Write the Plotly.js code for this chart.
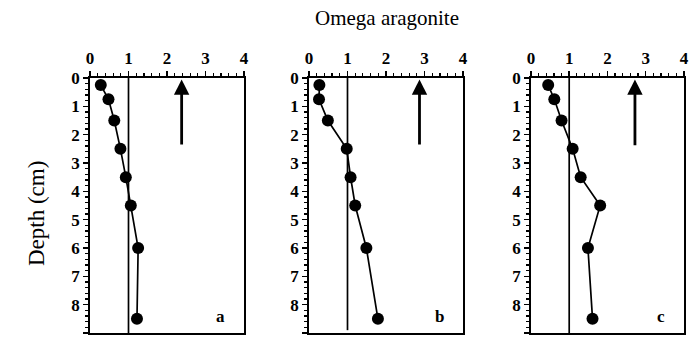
<!DOCTYPE html>
<html>
<head>
<meta charset="utf-8">
<script src="https://cdn.plot.ly/plotly-3.0.1.min.js"></script>
<style>html,body{margin:0;padding:0;background:#fff;}#chart{width:695px;height:341px;}</style>
</head>
<body>
<div id="chart"></div>
<script>
// Data
const depth = [0.25, 0.75, 1.5, 2.5, 3.5, 4.5, 6, 8.5];
const omegaA = [0.28, 0.48, 0.63, 0.79, 0.93, 1.06, 1.25, 1.22];
const omegaB = [0.27, 0.26, 0.49, 0.98, 1.08, 1.20, 1.49, 1.79];
const omegaC = [0.45, 0.61, 0.80, 1.09, 1.30, 1.81, 1.49, 1.61];
const panelLabels = ["a", "b", "c"];
const arrowX = [2.38, 2.87, 2.72];
const arrowBottom = [2.4, 2.4, 2.43];
const saturation = 1;
const lineBottom = [9, 8.9, 9];
const xTicks = [0, 1, 2, 3, 4];
const yTicks = [0, 1, 2, 3, 4, 5, 6, 7, 8, 9];

const series = [omegaA, omegaB, omegaC];
const domains = [[0.1295, 0.3511], [0.4446, 0.6662], [0.764, 0.984]];
const FONT = 'Liberation Serif';

const traces = series.map((vals, i) => ({
  x: vals, y: depth, type: 'scatter', mode: 'lines+markers',
  xaxis: i === 0 ? 'x' : 'x' + (i + 1),
  yaxis: i === 0 ? 'y' : 'y' + (i + 1),
  line: {color: '#000', width: 1.7},
  marker: {color: '#000', size: 12},
  showlegend: false, hoverinfo: 'skip'
}));

const layout = {
  width: 695, height: 341,
  margin: {l: 0, r: 0, t: 78, b: 8},
  paper_bgcolor: '#fff', plot_bgcolor: '#fff',
  font: {family: FONT, color: '#000', size: 17},
  showlegend: false,
  shapes: [], annotations: []
};

series.forEach((_, i) => {
  const s = i === 0 ? '' : String(i + 1);
  layout['xaxis' + s] = {
    domain: domains[i], range: [0, 4], side: 'top', anchor: 'y' + s,
    tickmode: 'array', tickvals: xTicks, ticktext: xTicks.map(String),
    ticks: 'outside', ticklen: 5, tickwidth: 1.5, tickcolor: '#000',
    minor: {dtick: 0.2, ticks: 'outside', ticklen: 3, tickwidth: 1.2, tickcolor: '#000'},
    showline: true, mirror: true, linecolor: '#000', linewidth: 1.8,
    showgrid: false, zeroline: false, fixedrange: true,
    tickfont: {family: FONT, size: 17, color: '#000', weight: 'bold'}
  };
  layout['yaxis' + s] = {
    domain: [0, 1], range: [9, 0], anchor: 'x' + s,
    tickmode: 'array', tickvals: yTicks, ticktext: yTicks.map(String),
    ticks: 'outside', ticklen: 5, tickwidth: 1.5, tickcolor: '#000',
    minor: {dtick: 0.2, ticks: 'outside', ticklen: 3, tickwidth: 1.2, tickcolor: '#000'},
    showline: true, mirror: true, linecolor: '#000', linewidth: 1.8,
    showgrid: false, zeroline: false, fixedrange: true,
    tickfont: {family: FONT, size: 17, color: '#000', weight: 'bold'}
  };
  layout.shapes.push({
    type: 'line', xref: 'x' + s, yref: 'y' + s,
    x0: saturation, x1: saturation, y0: 0, y1: lineBottom[i],
    line: {color: '#000', width: 1.7}
  });
  layout.annotations.push({
    xref: 'x' + s, yref: 'y' + s, axref: 'x' + s, ayref: 'y' + s,
    x: arrowX[i], y: 0.05, ax: arrowX[i], ay: arrowBottom[i],
    showarrow: true, arrowhead: 2, arrowsize: 1.1, arrowwidth: 2.8, arrowcolor: '#000', text: ''
  });
  layout.annotations.push({
    xref: 'x' + s, yref: 'y' + s, x: 3.4, y: 8.4,
    text: '<b>' + panelLabels[i] + '</b>', showarrow: false,
    font: {family: FONT, size: 17, color: '#000'}
  });
});

layout.annotations.push({
  xref: 'paper', yref: 'paper', x: 387 / 695, y: 1, yshift: 60, yanchor: 'middle',
  text: 'Omega aragonite', showarrow: false,
  font: {family: FONT, size: 21, color: '#000'}
});
layout.annotations.push({
  xref: 'paper', yref: 'paper', x: 22 / 695, y: 0.5, yshift: -8,
  text: 'Depth (cm)', showarrow: false, textangle: -90,
  font: {family: FONT, size: 23, color: '#000'}
});

Plotly.newPlot('chart', traces, layout, {displayModeBar: false, staticPlot: true});
</script>
</body>
</html>
